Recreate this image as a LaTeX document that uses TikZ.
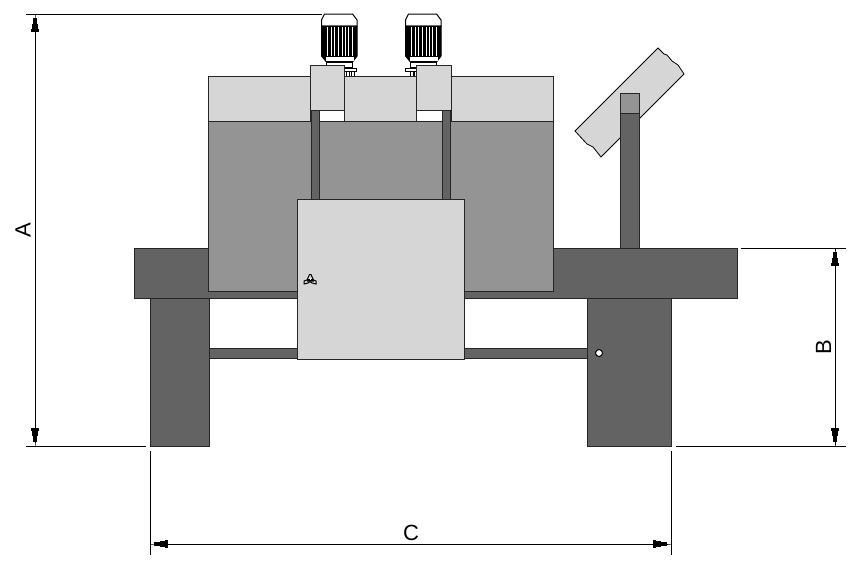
\documentclass[tikz,border=0pt]{standalone}
\usepackage{fontspec}
\setmainfont{Liberation Sans}
\usetikzlibrary{arrows.meta}
\definecolor{darkbody}{gray}{0.39}
\definecolor{midbody}{gray}{0.58}
\definecolor{lightbody}{gray}{0.84}
\tikzset{
 part/.style={draw=black!85,line width=0.9pt},
 dimline/.style={line width=1pt,{Rectangle[length=4pt,width=1pt] Rectangle[length=6pt,width=3.5pt] Rectangle[length=5pt,width=6pt] Rectangle[length=3pt,width=8pt]}-{Rectangle[length=3pt,width=8pt] Rectangle[length=5pt,width=6pt] Rectangle[length=6pt,width=3.5pt] Rectangle[length=4pt,width=1pt]}},
 extline/.style={line width=1pt},
 dimlabel/.style={font=\fontsize{22}{22}\selectfont,inner sep=0pt}
}
% one motor, x is its left edge
\newcommand{\motor}[1]{
 \begin{scope}[shift={(#1,0)}]
 \draw[line width=1pt,fill=white](5,62)--(5,67.5)--(31,67.5)--(31,62)--cycle;
 \draw[line width=1pt,fill=white](3,14)--(31,14)--(35.5,20)--(35.5,26)--(0,26)--(0,20)--cycle;
 \draw[line width=1pt,fill=black](0,26)--(35.5,26)--(35.5,56)--(31,62)--(5,62)--(0,56)--cycle;
 \fill[white](4,56.5)rectangle(32,61);
 \foreach \stripe in {5,9,12.5,16,20,23.5,26.5,30}
  \fill[white](\stripe,27)rectangle(\stripe+1.3,56);
 \end{scope}
}
\begin{document}
\begin{tikzpicture}[x=1pt,y=-1pt]
 \useasboundingbox (0,0) rectangle (864,570);
 % motors and their flanges
 \motor{321.5}
 \motor{405.5}
 \draw[line width=1pt,fill=white](344,68)rectangle(356.5,71.5);
 \draw[line width=1pt,fill=white](346,71.5)rectangle(349.5,76);
 \draw[line width=1pt,fill=white](351,71.5)rectangle(354,76);
 \draw[line width=1pt,fill=white](405.5,68)rectangle(417,71.5);
 \draw[line width=1pt,fill=white](410,71.5)rectangle(413,76);
 \draw[line width=1pt,fill=white](414,71.5)rectangle(417,76);
 % tilted plate
 \draw[line width=0.8pt,fill=lightbody](658,48)--(664,54)--(667,55)--(672,61)--(678,65)--(684,74)--(601,157)--(593,147)--(587,144)--(575,131)--cycle;
 \draw[part,fill=darkbody](620,113)rectangle(639,248);
 \draw[part,fill=midbody](620,93)rectangle(639,113);
 % tank
 \draw[part,fill=lightbody](208.5,76)rectangle(553,121);
 % table and legs
 \draw[part,fill=darkbody](134.5,248)rectangle(737.5,298);
 \draw[part,fill=midbody](208.5,121)rectangle(553,291);
 \draw[part,fill=darkbody](150,298)rectangle(209,446);
 \draw[part,fill=darkbody](587,298)rectangle(671,446);
 \draw[part,fill=darkbody](209,348)rectangle(587,358);
 % boxes on the tank
 \draw[part,fill=white](310,110)rectangle(344.5,121);
 \draw[part,fill=white](416,110)rectangle(451,121);
 \draw[part,fill=lightbody](310,65)rectangle(344.5,110);
 \draw[part,fill=lightbody](416,65)rectangle(451,110);
 \draw[part,fill=darkbody](311,110)rectangle(319.5,199);
 \draw[part,fill=darkbody](442.5,110)rectangle(450,199);
 % panel
 \draw[part,fill=lightbody](297,199)rectangle(464,359);
 % latch and knob
 \draw[line width=1pt](309.5,274.5)--(307,280)--(304,281)--(304,284)--(308,283)--(310,281.5)--(312,283)--(316,284)--(316,281)--(313.5,280)--(311,274.5)--cycle;
 \fill(307.5,279)--(313,279)--(314,281.5)--(307,281.5)--cycle;
 \fill[white](309.5,278)rectangle(311,280);
 \draw[line width=1pt,fill=white](599,353)circle(3.5);
 % dimensions
 \coordinate (atop) at (35,14);
 \coordinate (abot) at (35,446);
 \coordinate (btop) at (835,248);
 \coordinate (bbot) at (835,446);
 \coordinate (cleft) at (150,544);
 \coordinate (cright) at (671,544);
 \draw[extline](26,14)--(322,14);
 \draw[extline](26,446)--(146,446);
 \draw[extline](741,248)--(846,248);
 \draw[extline](676,446)--(846,446);
 \draw[extline](150,451)--(150,555);
 \draw[extline](671,451)--(671,555);
 \draw[dimline](atop)--(abot);
 \draw[dimline](btop)--(bbot);
 \draw[dimline](cleft)--(cright);
 \node[dimlabel,rotate=90] (alabel) at (23,230.5) {A};
 \node[dimlabel,rotate=90] (blabel) at (823.5,347.5) {B};
 \node[dimlabel] (clabel) at (411,532.5) {C};
\end{tikzpicture}
\end{document}
